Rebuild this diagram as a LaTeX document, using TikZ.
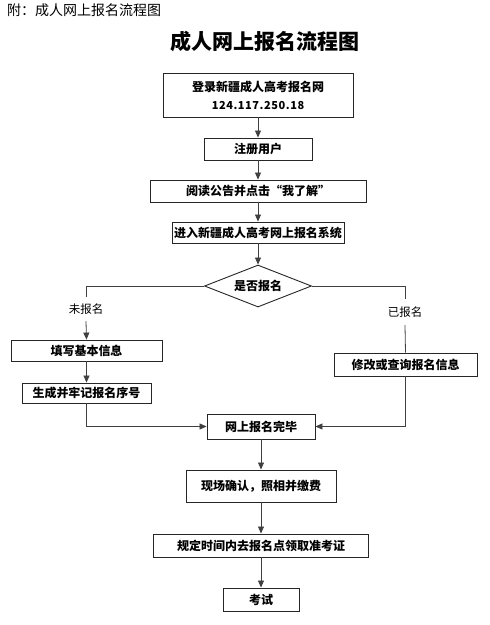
\documentclass[tikz,border=0pt]{standalone}
\usepackage{fontspec}
\setmainfont{Noto Sans CJK SC}
\usetikzlibrary{arrows.meta,shapes.geometric}
\begin{document}
\begin{tikzpicture}[x=1pt,y=-1pt,
  box/.style={draw=black!85,line width=0.9pt,rectangle,inner sep=0pt,font=\fontsize{12}{14}\selectfont\bfseries,align=center},
  conn/.style={draw=black!75,line width=0.8pt},
  arr/.style={conn,-{Triangle[length=7pt,width=6pt]}},
  lbl/.style={inner sep=0pt,minimum height=24pt,font=\fontsize{11.5}{13}\selectfont}]
\useasboundingbox (0,0) rectangle (490,625);
\node[anchor=west,inner sep=0pt,font=\fontsize{14}{16}\selectfont] (hdr) at (7,10) {附：成人网上报名流程图};
\node[inner sep=0pt,font=\fontsize{21}{24}\selectfont\bfseries] (title) at (265,41) {成人网上报名流程图};
\node[box,minimum width=190pt,minimum height=44pt] (b1) at (258,95)
  {登录新疆成人高考报名网\\[4pt]{\addfontfeature{LetterSpace=5}\fontsize{11}{13}\selectfont 124.117.250.18}};
\node[box,minimum width=108pt,minimum height=22pt] (b2) at (258,149) {注册用户};
\node[box,minimum width=216pt,minimum height=22pt] (b3) at (258,191) {阅读公告并点击“我了解”};
\node[box,minimum width=172pt,minimum height=21pt] (b4) at (258,232.5) {进入新疆成人高考网上报名系统};
\node[box,diamond,aspect=2.55,minimum width=107pt,minimum height=42pt] (d) at (258,286) {是否报名};
\node[lbl] (l1) at (86,309) {未报名};
\node[lbl,minimum height=26pt] (l2) at (405,312) {已报名};
\node[box,minimum width=151pt,minimum height=21pt] (f1) at (86.5,350.5) {填写基本信息};
\node[box,minimum width=129pt,minimum height=20pt] (f2) at (86.5,393) {生成并牢记报名序号};
\node[box,minimum width=143pt,minimum height=23pt] (m) at (405.5,364.5) {修改或查询报名信息};
\node[box,minimum width=108pt,minimum height=25pt] (w) at (261,426.5) {网上报名完毕};
\node[box,minimum width=150pt,minimum height=32pt] (c) at (261,486) {现场确认，照相并缴费};
\node[box,minimum width=215pt,minimum height=23pt] (g) at (261,545.5) {规定时间内去报名点领取准考证};
\node[box,minimum width=76pt,minimum height=23pt] (k) at (261,599.5) {考试};
\draw[arr] (b1) -- (b2);
\draw[arr] (b2) -- (b3);
\draw[arr] (b3) -- (b4);
\draw[arr] (b4) -- (d);
\draw[conn] (d.west) -| (l1.north);
\draw[arr] (l1.south) -- (f1.north);
\draw[arr] (f1.south) -- (f2.north);
\draw[arr] (f2.south) |- (w.west);
\draw[conn] (d.east) -| (l2.north);
\draw[conn] (l2.south) -- (m.north);
\draw[arr] (m.south) |- (w.east);
\draw[arr] (w) -- (c);
\draw[arr] (c) -- (g);
\draw[arr] (g) -- (k);
\end{tikzpicture}
\end{document}
